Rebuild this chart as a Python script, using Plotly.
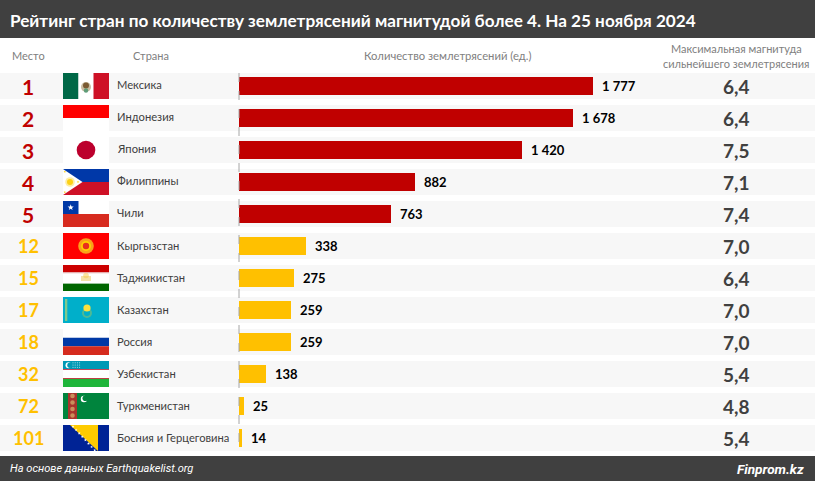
import math
import plotly.graph_objects as go

ranks = [1, 2, 3, 4, 5, 12, 15, 17, 18, 32, 72, 101]
countries = ["Мексика", "Индонезия", "Япония", "Филиппины", "Чили", "Кыргызстан",
             "Таджикистан", "Казахстан", "Россия", "Узбекистан", "Туркменистан",
             "Босния и Герцеговина"]
quakes = [1777, 1678, 1420, 882, 763, 338, 275, 259, 259, 138, 25, 14]
magnitudes = ["6,4", "6,4", "7,5", "7,1", "7,4", "7,0", "6,4", "7,0", "7,0", "5,4", "4,8", "5,4"]
flag_codes = ["mx", "id", "jp", "ph", "cl", "kg", "tj", "kz", "ru", "uz", "tm", "ba"]

W, H = 815, 481
TITLE = "Рейтинг стран по количеству землетрясений магнитудой более 4. На 25 ноября 2024"
FONT = "Lato, 'Open Sans', sans-serif"
RED, AMBER, DARK, GREY = "#C00000", "#FFC000", "#404040", "#808080"
TOP_N = 5

def px(x): return x / W
def py(y): return 1 - y / H

shapes, ann = [], []

def rect(x0, y0, x1, y1, color, layer="below"):
    shapes.append(dict(type="rect", xref="paper", yref="paper", x0=px(x0), x1=px(x1),
                       y0=py(y0), y1=py(y1), fillcolor=color, line_width=0, layer=layer))

def circle(cx, cy, r, color, line=None, lw=0):
    shapes.append(dict(type="circle", xref="paper", yref="paper", x0=px(cx - r), x1=px(cx + r),
                       y0=py(cy - r), y1=py(cy + r), fillcolor=color,
                       line=dict(width=lw, color=line or color), layer="below"))

def poly(points, color):
    d = "M" + " L".join(f"{px(a):.5f},{py(b):.5f}" for a, b in points) + " Z"
    shapes.append(dict(type="path", xref="paper", yref="paper", path=d, fillcolor=color,
                       line_width=0, layer="below"))

def star(cx, cy, r, color):
    pts = []
    for k in range(10):
        rad = r if k % 2 == 0 else r * 0.42
        a = -math.pi / 2 + k * math.pi / 5
        pts.append((cx + rad * math.cos(a), cy + rad * math.sin(a)))
    poly(pts, color)

def flag(code, t):
    L, R, B = 63, 109, t + 26
    if code == "mx":
        rect(L, t, 78.5, B, "#006847"); rect(78.5, t, 93.5, B, "#FFFFFF"); rect(93.5, t, R, B, "#CE1126")
        circle(86, t + 14, 5, "#C9BBA0"); circle(86, t + 12.5, 3, "#7A5A33"); circle(86, t + 17.5, 2.2, "#5E9C78")
    elif code == "id":
        rect(L, t, R, t + 13, "#FF0000"); rect(L, t + 13, R, B, "#FFFFFF")
    elif code == "jp":
        rect(L, t, R, B, "#FFFFFF"); circle(86, t + 13, 9.3, "#BC002D")
    elif code == "ph":
        rect(L, t, R, t + 13, "#0038A8"); rect(L, t + 13, R, B, "#CE1126")
        poly([(L, t), (L + 19.5, t + 13), (L, B)], "#FFFFFF")
        circle(L + 7, t + 13, 4.8, "rgba(252,209,22,0.4)"); circle(L + 7, t + 13, 3, "#FCD116")
        star(L + 1.8, t + 2.8, 1.3, "#FCD116"); star(L + 1.8, t + 23.2, 1.3, "#FCD116"); star(L + 15, t + 13, 1.3, "#FCD116")
    elif code == "cl":
        rect(L, t, R, t + 13, "#FFFFFF"); rect(L, t + 13, R, B, "#D72B1F")
        rect(L, t, L + 15.5, t + 13, "#0039A6"); star(L + 7.7, t + 6.5, 3.2, "#FFFFFF")
    elif code == "kg":
        rect(L, t, R, B, "#FF0000"); circle(86, t + 13, 7.8, "#F9A11B")
        circle(86, t + 13, 5, "#FFD100"); circle(86, t + 13, 3.2, "#E8301C")
    elif code == "tj":
        rect(L, t, R, t + 7.5, "#CC0000"); rect(L, t + 7.5, R, t + 18.5, "#FFFFFF"); rect(L, t + 18.5, R, B, "#006600")
        rect(L, t + 7.3, R, t + 8.3, "#E3A7A7"); rect(L, t + 18, R, t + 18.7, "#A8CCA8")
        rect(81, t + 11, 91, t + 16, "#F5E2A8")
        circle(86, t + 10.5, 2.8, "rgba(248,201,70,0.5)")
    elif code == "kz":
        rect(L, t, R, B, "#00AFCA"); rect(65, t + 2, 67.3, B - 2, "#7EC98C")
        circle(87, t + 16, 5, "rgba(120,190,120,0.65)"); circle(87, t + 16, 3, "#00AFCA")
        circle(87, t + 11, 3.6, "#FEE03C")
    elif code == "ru":
        rect(L, t, R, t + 8.7, "#FFFFFF"); rect(L, t + 8.7, R, t + 17.3, "#0039A6"); rect(L, t + 17.3, R, B, "#D52B1E")
    elif code == "uz":
        rect(L, t, R, t + 8.4, "#0099B5"); rect(L, t + 8.4, R, t + 17.4, "#FFFFFF"); rect(L, t + 17.4, R, B, "#1EB53A")
        rect(L, t + 8.2, R, t + 9, "#CE1126"); rect(L, t + 17, R, t + 17.8, "#CE1126")
        circle(68.5, t + 4.2, 3, "#FFFFFF"); circle(70, t + 4.2, 2.7, "#0099B5")
        for i in range(4):
            for j in range(3):
                circle(73 + 2.2 * i, t + 1.8 + 2.2 * j, 0.55, "#BFE6EE")
    elif code == "tm":
        rect(L, t, R, B, "#00843D"); rect(68, t, 77, B, "#A8342C")
        for k in range(4):
            circle(72.5, t + 3 + 6.5 * k, 2.3, "#C98F5A")
        circle(84, t + 6, 3.2, "#FFFFFF"); circle(85.3, t + 5.3, 2.8, "#00843D")
    elif code == "ba":
        rect(L, t, R, B, "#002395"); poly([(70, t), (98, t), (98, B)], "#FECB00")
        for k in range(8):
            star(73 + 3.1 * k, t + 1.5 + 3.4 * k, 1.5, "#FFFFFF")

# header and footer bands
rect(0, 0, W, 38, DARK)
rect(0, 456, W, H, DARK)

for i, code in enumerate(flag_codes):
    top = 73 + 32 * i
    rect(0, top, W, top + 26, "#F7F7F7")
    flag(code, top)

def text(x, y, s, size, color, anchor="center", bold=False, italic=False, family=FONT):
    body = f"<b>{s}</b>" if bold else s
    body = f"<i>{body}</i>" if italic else body
    ann.append(dict(xref="paper", yref="paper", x=px(x), y=py(y), text=body, showarrow=False,
                    xanchor=anchor, yanchor="middle", font=dict(size=size, color=color, family=family)))

text(8, 20.5, TITLE, 17.15, "#FFFFFF", "left", bold=True)
text(28, 55, "Место", 11, GREY)
text(151, 55, "Страна", 11, GREY)
text(447.5, 55, "Количество землетрясений (ед.)", 11.25, GREY)
text(736, 48, "Максимальная магнитуда", 11, GREY)
text(736, 63, "сильнейшего землетрясения", 11, GREY)
text(8, 468.5, "На основе данных Earthquakelist.org", 11.1, "#FFFFFF", "left", italic=True, family="Roboto")
text(806, 468.5, "Finprom.kz", 13.6, "#FFFFFF", "right", bold=True, italic=True, family="Roboto")

positions = list(range(len(ranks)))
colors = [RED if i < TOP_N else AMBER for i in positions]

for i in positions:
    cy = 86 + 32 * i
    text(28, cy, str(ranks[i]), 21 if i < TOP_N else 18, colors[i], bold=True)
    text(114.5, cy - 1, countries[i], 11.2, DARK, "left")
    text(736, cy, magnitudes[i], 19, DARK, bold=True)
    label = f"{quakes[i]:,}".replace(",", " ")
    ann.append(dict(xref="x", yref="y", x=quakes[i], y=i, text=f"<b>{label}</b>", showarrow=False,
                    xanchor="left", yanchor="middle", xshift=7,
                    font=dict(size=13, color="#000000", family=FONT)))

fig = go.Figure(go.Bar(x=quakes, y=positions, orientation="h", width=18 / 32,
                       marker=dict(color=colors, line_width=0), hoverinfo="skip"))

scale = 354 / 1777  # pixels per earthquake
shapes.append(dict(type="line", xref="x", yref="paper", x0=0, x1=0, y0=py(73), y1=py(448),
                   line=dict(color="#A6A6A6", width=1, dash="dash"), layer="above"))

fig.update_layout(
    width=W, height=H, margin=dict(l=0, r=0, t=0, b=0), paper_bgcolor="#FFFFFF", plot_bgcolor="rgba(0,0,0,0)",
    showlegend=False, shapes=shapes, annotations=ann, bargap=0,
    xaxis=dict(range=[-239 / scale, (W - 239) / scale], visible=False, fixedrange=True),
    yaxis=dict(range=[(H - 86) / 32, -86 / 32], visible=False, fixedrange=True),
)
fig.write_html("out.html", config=dict(displayModeBar=False),
               post_script="document.body.style.margin='0';")
